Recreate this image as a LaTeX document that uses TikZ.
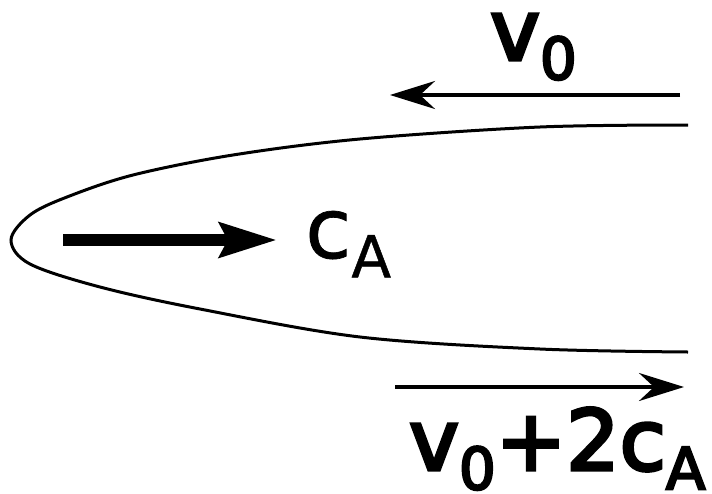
\documentclass[tikz,border=0pt]{standalone}
\usepackage{fontspec}
\setmainfont{DejaVu Sans}
\newfontfamily\heavyfont{DejaVu Sans}[FakeBold=4]
\newfontfamily\plainfont{DejaVu Sans}[FakeBold=0.8]
\usetikzlibrary{arrows.meta}
\newcommand{\lowsub}[1]{\raisebox{-0.23em}{\fontsize{58}{58}\selectfont #1}}

\begin{document}
\begin{tikzpicture}[x=1pt,y=-1pt,
  label/.style={inner sep=0pt,anchor=base west,font=\fontsize{84}{90}\plainfont},
  speed/.style={label,font=\fontsize{84}{90}\heavyfont},
  flow/.style={line width=3.6pt,-{Stealth[length=45pt,width=28pt,inset=15pt]}},
  wave/.style={line width=12pt,-{Stealth[length=57pt,width=34pt,inset=8pt]}}
]
\useasboundingbox (0,0) rectangle (712,493);
% front of the obstacle
\draw[line width=3pt,smooth,tension=0.55] plot coordinates {(688,125) (540,127) (360,139) (233,155) (133,175) (67,197) (30,215) (11,240) (30,264) (100,287) (200,309) (360,337) (540,349) (688,352)};
% arrow ends
\coordinate (inR) at (680,95);
\coordinate (inL) at (390,95);
\coordinate (frontL) at (63,240);
\coordinate (frontR) at (277,240);
\coordinate (outL) at (395,387);
\coordinate (outR) at (684,387);
\draw[flow] (inR) -- (inL);
\draw[wave] (frontL) -- (frontR);
\draw[flow] (outL) -- (outR);
% labels
\node[speed] (vin) at (490,60) {v\lowsub{0}};
\node[label] (cA) at (305,258) {c\lowsub{A}};
\node[speed] (vout) at (409,470) {v\lowsub{0}+2c\lowsub{A}};
\end{tikzpicture}
\end{document}
